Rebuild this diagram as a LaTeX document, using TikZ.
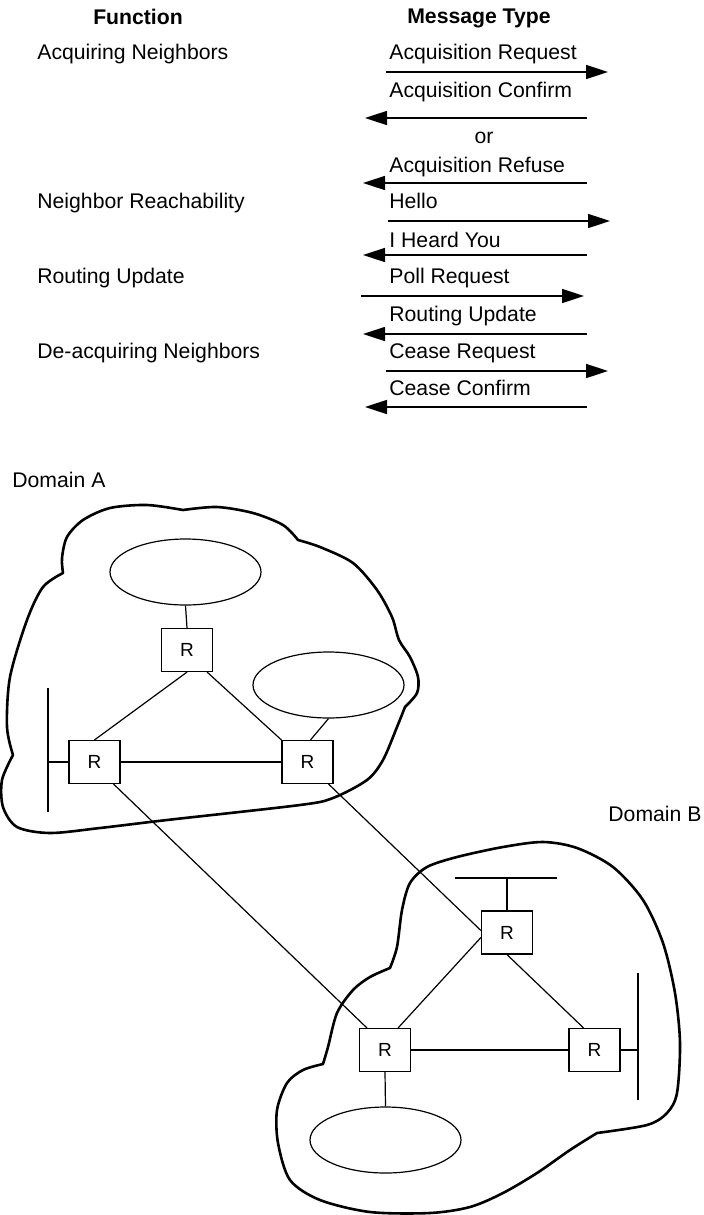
\documentclass[tikz,border=0pt]{standalone}
\usepackage{fontspec}
\setmainfont{Liberation Sans}
\usetikzlibrary{shapes.geometric,arrows.meta,calc}
\begin{document}
\begin{tikzpicture}[x=0.5pt,y=-0.5pt,
  txt/.style={inner sep=0pt,font=\fontsize{10.6}{12}\selectfont},
  hdr/.style={inner sep=0pt,font=\fontsize{10.6}{12}\selectfont\bfseries},
  msg/.style={line width=0.8pt,-{Triangle[length=11pt,width=7pt]}},
  router/.style={draw,line width=0.6pt,minimum width=25.5pt,minimum height=21.5pt,inner sep=0pt,font=\fontsize{9.5}{11}\selectfont},
  lan/.style={draw,ellipse,line width=0.6pt,minimum width=75.5pt,minimum height=33pt,inner sep=0pt},
  link/.style={line width=0.6pt},
  cloud/.style={line width=1.3pt,line join=round}]
\useasboundingbox (0,0) rectangle (703,1215);

% headers
\node[hdr,anchor=base] (hF) at (138,25) {Function};
\node[hdr,anchor=base] (hM) at (479,24) {Message Type};

% functions
\node[txt,anchor=base west] (f1) at (37,59) {Acquiring Neighbors};
\node[txt,anchor=base west] (f2) at (37,208) {Neighbor Reachability};
\node[txt,anchor=base west] (f3) at (37,283) {Routing Update};
\node[txt,anchor=base west] (f4) at (37,358) {De-acquiring Neighbors};

% messages
\node[txt,anchor=base west] (m1) at (389,59) {Acquisition Request};
\node[txt,anchor=base west] (m2) at (389,97) {Acquisition Confirm};
\node[txt,anchor=base] (mor) at (484,143) {or};
\node[txt,anchor=base west] (m3) at (389,172) {Acquisition Refuse};
\node[txt,anchor=base west] (m4) at (389,208) {Hello};
\node[txt,anchor=base west] (m5) at (389,247) {I Heard You};
\node[txt,anchor=base west] (m6) at (389,283) {Poll Request};
\node[txt,anchor=base west] (m7) at (389,321) {Routing Update};
\node[txt,anchor=base west] (m8) at (389,358) {Cease Request};
\node[txt,anchor=base west] (m9) at (389,395) {Cease Confirm};

% arrow end points
\coordinate (a1s) at (386,72);  \coordinate (a1e) at (608,72);
\coordinate (a2s) at (587,118); \coordinate (a2e) at (365,118);
\coordinate (a3s) at (587,183); \coordinate (a3e) at (363,183);
\coordinate (a4s) at (388,221); \coordinate (a4e) at (610,221);
\coordinate (a5s) at (587,255); \coordinate (a5e) at (363,255);
\coordinate (a6s) at (361,296); \coordinate (a6e) at (584,296);
\coordinate (a7s) at (587,334); \coordinate (a7e) at (363,334);
\coordinate (a8s) at (386,371); \coordinate (a8e) at (608,371);
\coordinate (a9s) at (587,407); \coordinate (a9e) at (365,407);
\foreach \i in {1,...,9} {\draw[msg] (a\i s) -- (a\i e);}

% Domain labels
\node[txt,anchor=base west] (dA) at (12,487) {Domain A};
\node[txt,anchor=base west] (dB) at (608,821) {Domain B};

% Domain A cloud
\draw[cloud]
  plot[smooth] coordinates {(63,573) (62,558) (67,537) (83,520) (110,508) (147,505) (183,510)}
  -- plot[smooth] coordinates {(183,510) (217,507) (253,513) (283,525) (298,540)}
  -- plot[smooth] coordinates {(298,540) (320,547) (353,563) (377,590) (392,617) (399,640) (410,657) (418,677) (417,693) (405,707)}
  -- plot[smooth] coordinates {(405,707) (397,727) (383,760) (367,780) (333,798) (300,805) (167,820) (100,828) (50,833) (17,827) (3,807) (2,780) (13,755)}
  -- plot[smooth] coordinates {(13,755) (7,727) (10,677) (27,620) (43,587) (63,573)}
  -- cycle;

% Domain B cloud
\draw[cloud]
  plot[smooth] coordinates {(390,968) (397,947) (402,910) (410,883) (427,867) (457,857) (503,847) (543,842) (577,848) (613,867) (643,900) (663,943) (675,993) (680,1043) (677,1093) (667,1113) (647,1125) (597,1133)}
  -- plot[smooth] coordinates {(597,1133) (570,1150) (537,1173) (503,1193) (470,1207) (430,1213) (370,1212) (320,1200) (290,1180) (278,1143) (277,1110) (287,1083) (303,1070) (323,1064)}
  -- plot[smooth] coordinates {(323,1064) (328,1047) (337,1013) (353,990) (370,977) (390,968)}
  -- cycle;

% Domain A contents
\node[lan] (eA1) at (185.5,572) {};
\node[lan] (eA2) at (328.5,685) {};
\node[router] (rA1) at (187,650) {R};
\node[router] (rA2) at (94.5,762) {R};
\node[router] (rA3) at (307.5,762) {R};
\coordinate (busAt) at (48,688);
\coordinate (busAb) at (48,812);
\draw[link] (busAt) -- (busAb);
\draw[link] (rA2.west) -- (rA2.west -| busAt);
\draw[link] (eA1.south) -- (rA1.north);
\draw[link] (rA1.south) -- (rA2.north);
\draw[link] ([xshift=-3pt]rA1.south east) -- (rA3.north west);
\draw[link] (eA2.south) -- ([xshift=1.5pt]rA3.north);
\draw[link] (rA2.east) -- (rA3.west);

% Domain B contents
\node[router] (rB1) at (507,932.5) {R};
\node[router] (rB2) at (385,1050) {R};
\node[router] (rB3) at (594.5,1050) {R};
\node[lan] (eB) at (385.5,1140) {};
\coordinate (busBl) at (455,878);
\coordinate (busBr) at (557,878);
\draw[link] (busBl) -- (busBr);
\draw[link] (rB1.north) -- (rB1.north |- busBl);
\coordinate (busCt) at (638,973);
\coordinate (busCb) at (638,1100);
\draw[link] (busCt) -- (busCb);
\draw[link] (rB3.east) -- (rB3.east -| busCt);
\draw[link] ([yshift=-2.5pt]rB1.west) -- ([xshift=-6.5pt]rB2.north east);
\draw[link] (rB1.south) -- ([xshift=-5.5pt]rB3.north);
\draw[link] (rB2.east) -- (rB3.west);
\draw[link] (rB2.south) -- (eB.north);

% inter-domain links
\draw[link] ([xshift=-3.5pt]rA2.south east) -- ([xshift=4pt]rB2.north west);
\draw[link] ([xshift=-2.5pt]rA3.south east) -- ([yshift=1pt]rB1.west);
\end{tikzpicture}
\end{document}
